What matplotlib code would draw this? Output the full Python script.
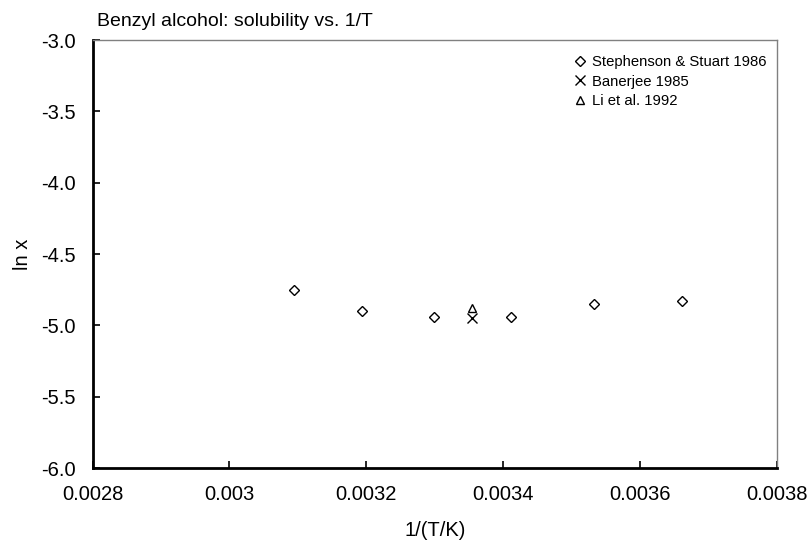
import matplotlib
matplotlib.use("Agg")
import matplotlib.pyplot as plt

plt.rcParams['font.family'] = ['Liberation Sans', 'DejaVu Sans']

# 1/T (1/K) and ln x readings
stuart_x = [0.003095, 0.003193, 0.003299, 0.003411, 0.003532, 0.003661]
stuart_y = [-4.75, -4.90, -4.94, -4.94, -4.85, -4.83]
banerjee_x = [0.003354]
banerjee_y = [-4.95]
li_x = [0.003354]
li_y = [-4.88]

xticks = [0.0028, 0.003, 0.0032, 0.0034, 0.0036, 0.0038]
xtick_labels = ['0.0028', '0.003', '0.0032', '0.0034', '0.0036', '0.0038']
yticks = [-6.0, -5.5, -5.0, -4.5, -4.0, -3.5, -3.0]

W, H = 811, 540
fig = plt.figure(figsize=(W / 100, H / 100), dpi=100)
left, right, top, bottom = 92.5, 777, 40, 468
ax = fig.add_axes([left / W, 1 - bottom / H, (right - left) / W, (bottom - top) / H])

ax.plot(stuart_x, stuart_y, linestyle='none', marker='D', markersize=5,
        markerfacecolor='white', markeredgecolor='black', markeredgewidth=1,
        label='Stephenson & Stuart 1986')
ax.plot(banerjee_x, banerjee_y, linestyle='none', marker='x', markersize=7,
        color='black', markeredgewidth=1, label='Banerjee 1985')
ax.plot(li_x, li_y, linestyle='none', marker='^', markersize=6,
        markerfacecolor='white', markeredgecolor='black', markeredgewidth=1,
        label='Li et al. 1992')

ax.set_xlim(0.0028, 0.0038)
ax.set_ylim(-6.0, -3.0)
ax.set_xticks(xticks)
ax.set_xticklabels(xtick_labels)
ax.set_yticks(yticks)
ax.set_yticklabels(['%.1f' % v for v in yticks])
ax.tick_params(direction='in', length=5, width=1.2, labelsize=14.5)
ax.tick_params(axis='x', pad=12)
ax.tick_params(axis='y', pad=12)

for side in ['left', 'bottom']:
    ax.spines[side].set_linewidth(2)
    ax.spines[side].set_color('black')
for side in ['top', 'right']:
    ax.spines[side].set_linewidth(1)
    ax.spines[side].set_color('#808080')

ax.set_xlabel('1/(T/K)', fontsize=14.5, va='center')
ax.xaxis.set_label_coords(0.5, -(531 - bottom) / (bottom - top))
ax.set_ylabel('ln x', fontsize=14.5, va='center')
ax.yaxis.set_label_coords(-(left - 22) / (right - left), 0.5)

fig.text(97 / W, 1 - 22 / H, 'Benzyl alcohol: solubility vs. 1/T',
         fontsize=14, va='center', ha='left')

fig.legend(loc='upper left', frameon=False, fontsize=10.7, handlelength=0.8,
           handletextpad=0.4, labelspacing=0.38, borderpad=0, borderaxespad=0,
           bbox_to_anchor=(574 / W, 1 - 55 / H))

fig.savefig('out.png', dpi=100)
